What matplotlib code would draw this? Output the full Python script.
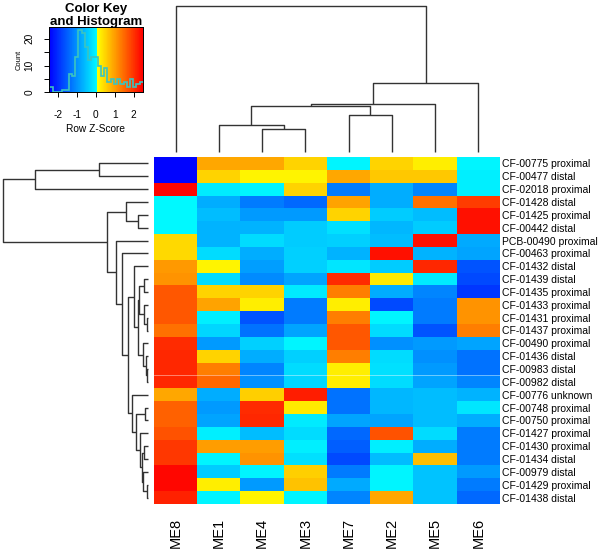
import numpy as np
import matplotlib
matplotlib.use("Agg")
import matplotlib.pyplot as plt
from matplotlib.colors import LinearSegmentedColormap, Normalize

plt.rcParams['font.family'] = ['Liberation Sans', 'DejaVu Sans']
plt.rcParams['axes.unicode_minus'] = False

# columns in dendrogram order
col_labels = ["ME8", "ME1", "ME4", "ME3", "ME7", "ME2", "ME5", "ME6"]

row_labels = [
    "CF-00775 proximal", "CF-00477 distal", "CF-02018 proximal",
    "CF-01428 distal", "CF-01425 proximal", "CF-00442 distal",
    "PCB-00490 proximal", "CF-00463 proximal", "CF-01432 distal",
    "CF-01439 distal", "CF-01435 proximal", "CF-01433 proximal",
    "CF-01431 proximal", "CF-01437 proximal", "CF-00490 proximal",
    "CF-01436 distal", "CF-00983 distal", "CF-00982 distal",
    "CF-00776 unknown", "CF-00748 proximal", "CF-00750 proximal",
    "CF-01427 proximal", "CF-01430 proximal", "CF-01434 distal",
    "CF-00979 distal", "CF-01429 proximal", "CF-01438 distal",
]

# row z-scores (estimated from the colours)
zscores = [
    [-2.40, 0.90, 0.90, 0.50, 0.00, 0.50, 0.25, 0.00],
    [-2.40, 0.50, 0.20, 0.20, 0.90, 0.60, 0.60, -0.05],
    [2.40, -0.10, 0.00, 0.50, -1.20, -0.70, -1.10, -0.05],
    [0.05, -0.70, -1.20, -1.40, 0.95, -0.70, 1.40, 1.90],
    [0.05, -0.55, -0.90, -0.90, 0.50, -0.40, -0.55, 2.30],
    [0.05, -0.65, -0.65, -0.40, -0.20, -0.60, -0.40, 2.30],
    [0.45, -0.65, -0.25, -0.40, -0.35, -0.55, 2.30, -0.75],
    [0.45, -0.25, -0.70, -0.35, -0.65, 2.30, -0.65, -0.80],
    [1.05, 0.20, -0.85, -0.35, -0.15, -0.40, 2.10, -1.60],
    [1.10, -0.25, -1.05, -0.80, 2.05, 0.30, -0.10, -1.70],
    [1.65, 0.50, 0.50, -0.10, 1.30, -0.70, -1.10, -1.90],
    [1.65, 0.95, 0.25, -1.20, 0.25, -1.70, -1.20, 1.10],
    [1.65, -0.05, -1.60, -1.20, 1.30, 0.00, -1.20, 1.10],
    [1.40, -0.30, -1.30, -0.80, 1.65, -0.25, -1.60, 1.30],
    [2.05, -0.90, -0.35, 0.00, 1.65, -1.00, -0.90, -0.80],
    [2.10, 0.50, -0.70, -0.35, 1.30, -0.25, -1.00, -1.30],
    [2.10, 1.30, -1.10, -0.25, 0.25, -0.20, -0.90, -1.30],
    [2.10, 1.50, -1.00, -0.30, 0.25, -0.25, -0.80, -1.10],
    [0.90, -0.70, 0.55, 2.20, -1.30, -0.60, -0.55, -0.65],
    [1.55, -0.90, 2.05, 0.30, -1.30, -0.60, -0.55, -0.15],
    [1.55, -0.80, 2.10, -0.10, -0.80, -0.80, -0.55, -0.70],
    [1.70, -0.05, -0.55, -0.25, -1.40, 1.70, -0.25, -1.20],
    [1.95, 1.00, 1.00, -0.05, -1.50, -0.05, -0.70, -1.20],
    [1.95, 0.00, 1.10, -0.20, -1.70, -0.55, 0.70, -1.20],
    [2.40, -0.40, 0.00, 0.55, -1.20, 0.00, -0.50, -0.90],
    [2.40, 0.25, -0.90, 0.65, -0.75, 0.00, -0.50, -1.20],
    [2.15, 0.00, 0.20, 0.00, -1.10, 0.90, -0.50, -1.40],
]

# dendrogram merges: (left id, right id, height); leaves are 0..n-1
col_merges = [
    (2, 3, 2.27), (1, 8, 2.64), (4, 5, 3.70), (9, 10, 4.54),
    (11, 6, 4.74), (12, 7, 6.90), (0, 13, 14.57),
]
row_merges = [
    (0, 1, 4.93), (27, 2, 11.33), (4, 5, 1.00), (3, 29, 2.23),
    (9, 10, 0.43), (12, 13, 0.16), (11, 32, 0.40), (31, 33, 0.90),
    (16, 17, 0.10), (15, 35, 0.26), (14, 36, 0.50), (34, 37, 1.06),
    (8, 38, 1.40), (19, 20, 0.33), (22, 23, 0.40), (25, 26, 0.16),
    (24, 42, 0.50), (41, 43, 0.63), (21, 44, 0.83), (40, 45, 1.26),
    (18, 46, 1.66), (39, 47, 2.00), (7, 48, 2.66), (6, 49, 3.26),
    (30, 50, 4.13), (28, 51, 14.50),
]

# colour key histogram
hist_edges = np.linspace(-2.44, 2.49, 30)
hist_counts = [2, 0, 0, 0, 1, 1, 7, 6, 13, 23, 22, 17, 12, 13, 13,
               10, 6, 9, 4, 5, 3, 5, 3, 4, 2, 5, 2, 3, 4]

vmin, vmax, vbreak = -2.44, 2.47, 0.1
p = (vbreak - vmin) / (vmax - vmin)
cmap = LinearSegmentedColormap.from_list(
    "bcyr", [(0, "#0000FF"), (p, "#00FFFF"), (p, "#FFFF00"), (1, "#FF0000")])
norm = Normalize(vmin, vmax)

W, H = 602, 551
fig = plt.figure(figsize=(W / 100, H / 100), dpi=100)


def px_axes(x0, y0, x1, y1):
    return fig.add_axes([x0 / W, 1 - y1 / H, (x1 - x0) / W, (y1 - y0) / H])


def dendro_segments(merges, n):
    pos = {i: i + 0.5 for i in range(n)}
    hgt = {i: 0.0 for i in range(n)}
    segs = []
    for k, (a, b, h) in enumerate(merges):
        segs.append(([pos[a], pos[a], pos[b], pos[b]], [hgt[a], h, h, hgt[b]]))
        pos[n + k] = (pos[a] + pos[b]) / 2
        hgt[n + k] = h
    return segs


line_kw = dict(color="#333333", lw=1.0, clip_on=False, solid_capstyle="butt")

# heatmap
mat = np.array(zscores)
ax = px_axes(154, 157, 500, 504)
ax.imshow(mat, cmap=cmap, norm=norm, aspect="auto", interpolation="nearest",
          extent=(0, mat.shape[1], mat.shape[0], 0))
ax.axhline(17, color="white", lw=0.6, alpha=0.5)
ax.set_xlim(0, mat.shape[1])
ax.set_ylim(mat.shape[0], 0)
for s in ax.spines.values():
    s.set_visible(False)
ax.yaxis.tick_right()
ax.set_yticks(np.arange(len(row_labels)) + 0.5)
ax.set_yticklabels(row_labels, fontsize=7.5)
ax.set_xticks(np.arange(len(col_labels)) + 0.5)
ax.set_xticklabels(col_labels, rotation=90, fontsize=10.5, va="top")
ax.tick_params(axis="y", length=0, pad=1.5)
ax.tick_params(axis="x", length=0, pad=10)

# column dendrogram
axc = px_axes(154, 6, 500, 151.7)
for xs, ys in dendro_segments(col_merges, len(col_labels)):
    axc.plot(xs, ys, **line_kw)
axc.set_xlim(0, len(col_labels))
axc.set_ylim(0, 14.57)
axc.axis("off")

# row dendrogram
axr = px_axes(3.3, 157, 148.3, 504)
for ys, xs in dendro_segments(row_merges, len(row_labels)):
    axr.plot(xs, ys, **line_kw)
axr.set_xlim(14.5, 0)
axr.set_ylim(len(row_labels), 0)
axr.axis("off")

# colour key
axk = px_axes(49.3, 26.7, 142.5, 92.5)
grad = np.linspace(vmin, vmax, 400).reshape(1, -1)
axk.imshow(grad, cmap=cmap, norm=norm, aspect="auto",
           extent=(vmin, vmax, 0, 24.4), interpolation="nearest")
axk.stairs(hist_counts, hist_edges, baseline=None, color="#3CC4C0", lw=1.2)
axk.set_xlim(vmin, vmax)
axk.set_ylim(0, 24.4)
axk.set_xticks([-2, -1, 0, 1, 2])
axk.set_yticks([0, 5, 10, 15, 20])
axk.set_yticklabels(["0", "", "10", "", "20"], rotation=90, va="center")
axk.tick_params(labelsize=7.3, length=3.6, width=0.7, pad=2)
axk.tick_params(axis="x", pad=9)
axk.tick_params(axis="y", pad=7)
for s in axk.spines.values():
    s.set_linewidth(0.7)
fig.text(95.7 / W, 1 - 12 / H, "Color Key", ha="center", va="baseline",
         fontsize=9.5, fontweight="bold")
fig.text(95.7 / W, 1 - 24.5 / H, "and Histogram", ha="center", va="baseline",
         fontsize=9.5, fontweight="bold")
fig.text(19.5 / W, 1 - 60 / H, "Count", rotation=90, ha="center", va="center",
         fontsize=5.4)
fig.text(95.7 / W, 1 - 129 / H, "Row Z-Score", ha="center", va="center",
         fontsize=7.3)

fig.savefig("out.png", dpi=100)
